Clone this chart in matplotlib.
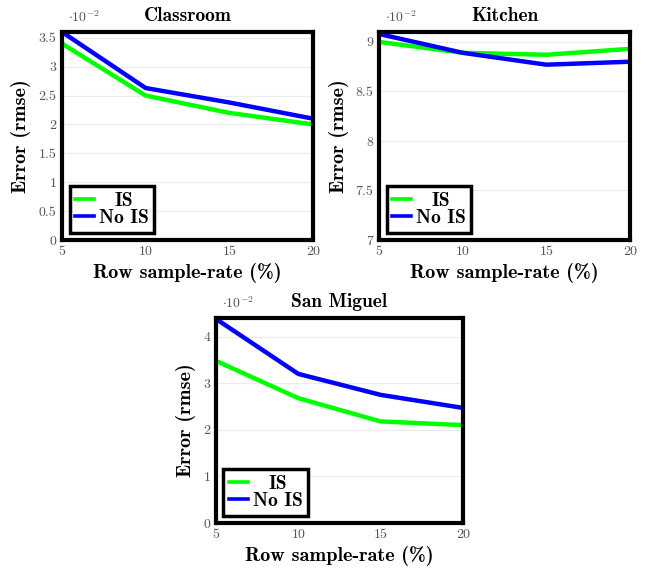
import matplotlib
matplotlib.use("Agg")
import matplotlib.pyplot as plt
from matplotlib.ticker import FuncFormatter, MultipleLocator
from matplotlib.transforms import Bbox

plt.rcParams['mathtext.fontset'] = 'cm'
plt.rcParams['axes.unicode_minus'] = False

# Data (values in units of 1e-2)
sample_rates = [5, 10, 15, 20]
classroom_is = [3.40, 2.50, 2.20, 2.00]
classroom_nois = [3.60, 2.63, 2.38, 2.10]
kitchen_is = [9.00, 8.89, 8.87, 8.93]
kitchen_nois = [9.08, 8.89, 8.77, 8.80]
sanmiguel_is = [3.48, 2.68, 2.18, 2.10]
sanmiguel_nois = [4.38, 3.20, 2.75, 2.47]

titles = ["Classroom", "Kitchen", "San Miguel"]
series_labels = ["IS", "No IS"]

W, H = 647, 571
fig = plt.figure(figsize=(W / 100, H / 100), dpi=100)

def rect(l, r, t, b):
    return [l / W, 1 - b / H, (r - l) / W, (b - t) / H]

panels = [
    (rect(62, 313, 32, 240), titles[0], classroom_is, classroom_nois, (0, 3.6), 0.5),
    (rect(379, 630, 32, 240), titles[1], kitchen_is, kitchen_nois, (7, 9.1), 0.5),
    (rect(216, 463, 318, 523), titles[2], sanmiguel_is, sanmiguel_nois, (0, 4.4), 1.0),
]

bold = dict(family='cmb10')
tickcol = '#555555'


def center_legend_texts(leg):
    areas = []
    for col in leg._legend_handle_box.get_children():
        for entry in col.get_children():
            areas.append(entry.get_children()[-1])
    orig = {id(a): a.get_bbox for a in areas}

    def make(a):
        o = orig[id(a)]

        def gb(renderer):
            wmax = max(orig[id(t)](renderer).width for t in areas)
            b = o(renderer)
            extra = (wmax - b.width) / 2
            return Bbox.from_bounds(b.x0 - extra, b.y0, wmax, b.height)
        return gb

    for a in areas:
        a.get_bbox = make(a)


for pos, title, y_is, y_nois, ylim, step in panels:
    ax = fig.add_axes(pos)
    ax.plot(sample_rates, y_is, color='#00ff00', lw=3.2, label=series_labels[0], solid_joinstyle='miter')
    ax.plot(sample_rates, y_nois, color='#0000ff', lw=3.2, label=series_labels[1], solid_joinstyle='miter')
    ax.set_xlim(5, 20)
    ax.set_ylim(*ylim)
    ax.set_xticks(sample_rates)
    ax.yaxis.set_major_locator(MultipleLocator(step))
    ax.yaxis.set_major_formatter(FuncFormatter(lambda v, p: f"{v:g}"))
    ax.grid(axis='y', color='#ebebeb', lw=0.8)
    ax.set_axisbelow(True)
    for s in ax.spines.values():
        s.set_linewidth(3.0)
        s.set_color('black')
    ax.tick_params(length=0, pad=4, labelsize=10, labelcolor=tickcol)
    for lab in ax.get_xticklabels() + ax.get_yticklabels():
        lab.set_family('cmr10')
    ax.set_title(title, fontsize=14, pad=8, **bold)
    ax.set_xlabel("Row sample-rate (%)", fontsize=14.5, labelpad=4, **bold)
    ax.set_ylabel("Error (rmse)", fontsize=14.5, labelpad=5, **bold)
    ax.text(0.025, 1.035, r'$\cdot 10^{-2}$', transform=ax.transAxes, fontsize=10,
            color=tickcol, ha='left', va='bottom')
    leg = ax.legend(loc='lower left', bbox_to_anchor=(0.03, 0.035), fancybox=False,
                    framealpha=1, edgecolor='black', handlelength=0.95, handletextpad=0.25,
                    borderpad=0.3, labelspacing=-0.05, borderaxespad=0,
                    prop=dict(family='cmb10', size=14))
    leg.get_frame().set_linewidth(2.5)
    for ln in leg.get_lines():
        ln.set_linewidth(2.6)
    center_legend_texts(leg)

fig.savefig("out.png", dpi=100)
